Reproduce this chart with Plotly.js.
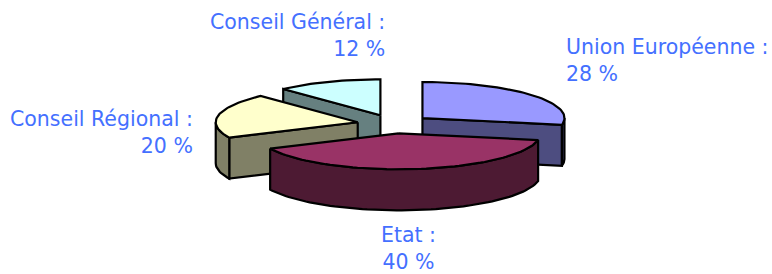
<!DOCTYPE html>
<html>
<head>
<meta charset="utf-8">
<script src="https://cdn.plot.ly/plotly-3.0.1.min.js"></script>
<style>html,body{margin:0;padding:0;background:#fff;}#chart{width:772px;height:274px;}</style>
</head>
<body>
<div id="chart"></div>
<script>
// ---- data ----
const labels = ['Union Européenne', 'Etat', 'Conseil Régional', 'Conseil Général'];
const values = [28, 40, 20, 12];
const topColors = ['#9999FF', '#993366', '#FFFFCC', '#CCFFFF'];
const sideColors = ['#4D4D80', '#4D1A33', '#808066', '#668080'];

// ---- geometry / style constants ----
const CX = 394, CY = 124, RX = 142, RY = 36, DEPTH = 41, EXPLODE = 0.26;
const LINE = {color: '#000', width: 2.2};
const labelPos = [
  {x: 565, y: 34, xanchor: 'left', align: 'left'},
  {x: 408, y: 222, xanchor: 'center', align: 'center'},
  {x: 194, y: 106, xanchor: 'right', align: 'right'},
  {x: 386, y: 9, xanchor: 'right', align: 'right'}
];

const total = values.reduce((a, b) => a + b, 0);
const rad = d => d * Math.PI / 180;
const slices = [];
let cum = 0;
values.forEach((v, i) => {
  const a2 = 90 - cum / total * 360;          // counter-clockwise end
  const a1 = a2 - v / total * 360;            // clockwise end
  cum += v;
  const mid = (a1 + a2) / 2;
  const ax = CX + EXPLODE * RX * Math.cos(rad(mid));
  const ay = CY - EXPLODE * RY * Math.sin(rad(mid));
  slices.push({i, a1, a2, ax, ay});
});

function pt(s, t, dz) {
  return [s.ax + RX * Math.cos(rad(t)), s.ay - RY * Math.sin(rad(t)) + dz];
}
function arc(s, from, to, dz) {
  const n = Math.max(2, Math.ceil(Math.abs(to - from) / 2));
  const out = [];
  for (let k = 0; k <= n; k++) out.push(pt(s, from + (to - from) * k / n, dz));
  return out;
}
function poly(points, color) {
  return {
    type: 'scatter', mode: 'lines', fill: 'toself', fillcolor: color,
    x: points.map(p => p[0]), y: points.map(p => p[1]),
    line: LINE, hoverinfo: 'skip', showlegend: false
  };
}

const traces = [];
slices.slice().sort((a, b) => a.ay - b.ay).forEach(s => {
  const side = sideColors[s.i];
  const apexTop = [s.ax, s.ay], apexBot = [s.ax, s.ay + DEPTH];
  // radial faces
  [[s.a1, Math.cos(rad(s.a1)) > 1e-6], [s.a2, Math.cos(rad(s.a2)) < -1e-6]].forEach(([t, vis]) => {
    if (!vis) return;
    const e = pt(s, t, 0), eb = pt(s, t, DEPTH);
    traces.push(poly([apexTop, e, eb, apexBot, apexTop], side));
  });
  // outer wall (front half)
  [[-180, 0], [180, 360]].forEach(([lo, hi]) => {
    const f = Math.max(s.a1, lo), t = Math.min(s.a2, hi);
    if (t - f > 0.01) {
      const top = arc(s, f, t, 0), bot = arc(s, t, f, DEPTH);
      traces.push(poly(top.concat(bot, [top[0]]), side));
    }
  });
  // top face
  const topArc = arc(s, s.a1, s.a2, 0);
  traces.push(poly([apexTop].concat(topArc, [apexTop]), topColors[s.i]));
});

const annotations = slices.map(s => Object.assign({
  xref: 'x', yref: 'y', yanchor: 'top', showarrow: false, borderpad: 0,
  text: labels[s.i] + ' :<br>' + values[s.i] + ' %',
  font: {family: 'DejaVu Sans', size: 20.5, color: '#4470FF'}
}, labelPos[s.i]));

Plotly.newPlot('chart', traces, {
  width: 772, height: 274,
  margin: {l: 0, r: 0, t: 0, b: 0},
  paper_bgcolor: '#fff', plot_bgcolor: '#fff',
  xaxis: {range: [0, 772], visible: false, fixedrange: true},
  yaxis: {range: [274, 0], visible: false, fixedrange: true},
  showlegend: false,
  annotations
}, {staticPlot: true});
</script>
</body>
</html>
